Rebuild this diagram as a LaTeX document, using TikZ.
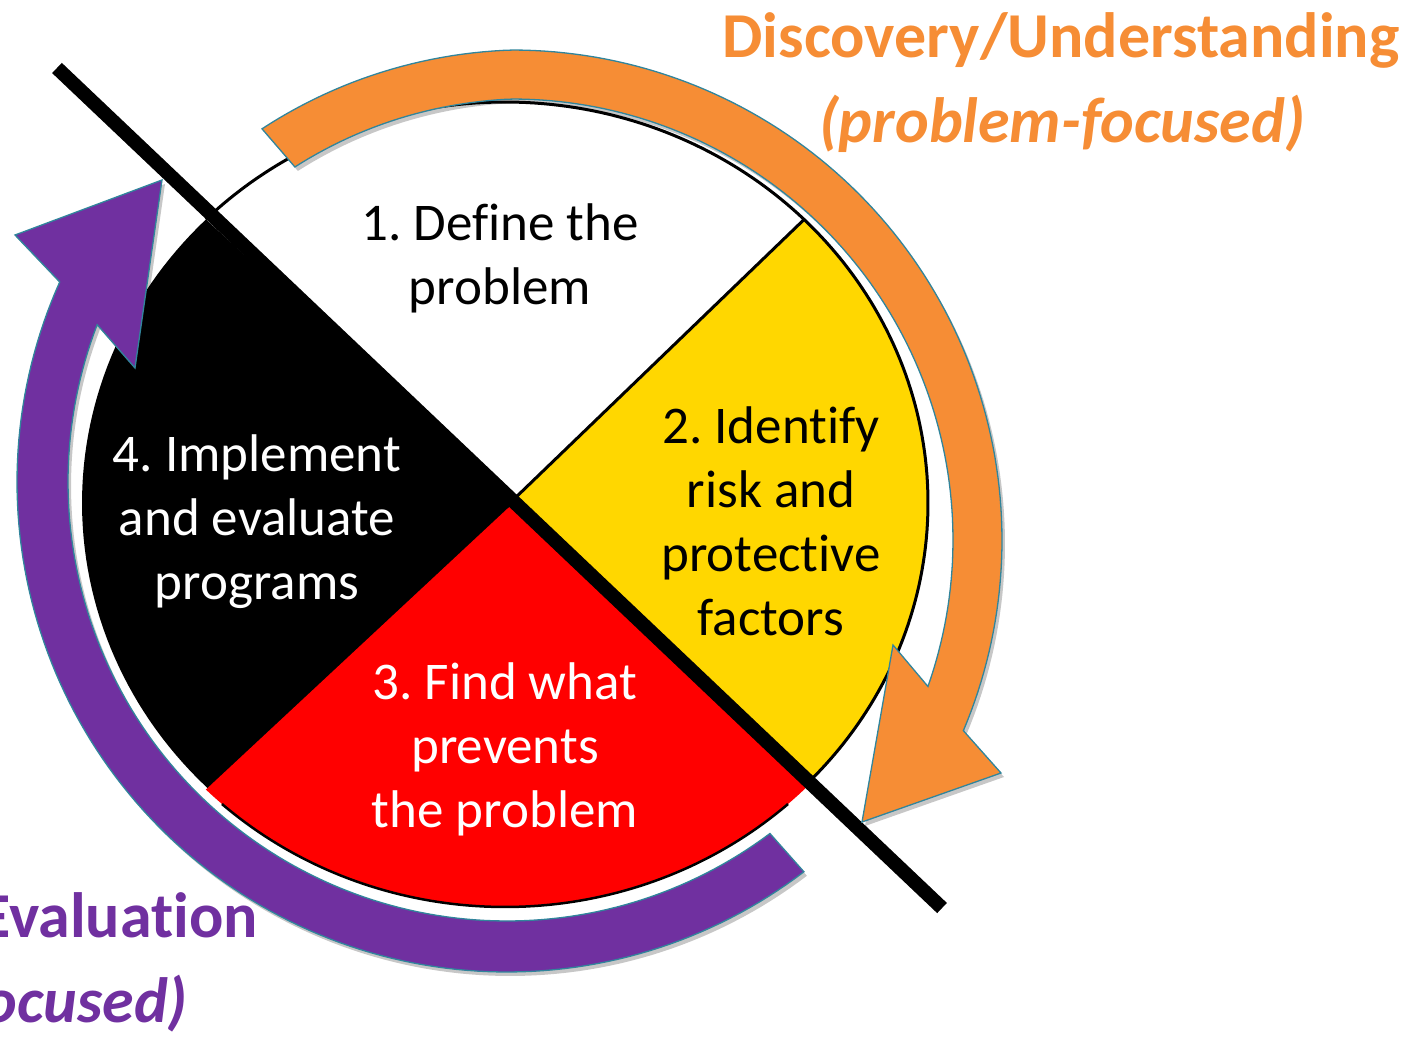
\documentclass[tikz,border=0pt]{standalone}
\usepackage{fontspec}
\setmainfont{Carlito}[Ligatures={TeX,NoCommon}]
\frenchspacing
\definecolor{ppOrange}{HTML}{F68D35}
\definecolor{ppPurple}{HTML}{7030A0}
\definecolor{ppYellow}{HTML}{FFD700}
\definecolor{ppRed}{HTML}{FF0000}
\definecolor{arrowEdge}{HTML}{31859C}
\begin{document}
\begin{tikzpicture}[x=1pt,y=-1pt,
  lbl/.style={inner sep=0pt, align=center, font=\fontsize{53}{64}\selectfont},
  side/.style={inner sep=0pt, font=\fontsize{64}{77}\selectfont\bfseries},
  band/.style={draw=arrowEdge, line width=1.3pt, line join=miter},
  softshadow/.style={fill=black, opacity=0.22},
  rimline/.style={draw=black, line width=3pt, line join=round}]
\useasboundingbox (0,0) rectangle (1418,1041);

% pie sectors (ellipse centre 505,503; rx 423, ry 401)
\coordinate (apex) at (512,501);
\coordinate (redapex) at (507,509);
\coordinate (redlineA) at (810,782.6);
\coordinate (redlineB) at (515,502.6);
\fill[white] (apex) -- plot[domain=45:135,samples=80,variable=\t] ({505+423*cos(\t)},{503-401*sin(\t)}) -- cycle;
\draw[rimline] plot[domain=45:135,samples=80,variable=\t] ({505+423*cos(\t)},{503-401*sin(\t)});
\fill[black] (apex) -- plot[domain=135:310,samples=120,variable=\t] ({505+423*cos(\t)},{503-401*sin(\t)}) -- cycle;
\fill[ppYellow] (apex) -- plot[domain=-45:45,samples=80,variable=\t] ({505+423*cos(\t)},{503-401*sin(\t)}) -- cycle;
\draw[rimline] plot[domain=-45:45,samples=80,variable=\t] ({505+423*cos(\t)},{503-401*sin(\t)}) -- (apex);
\fill[ppRed] (redapex) -- plot[domain=225:315,samples=80,variable=\t] ({505+423*cos(\t)},{506-401*sin(\t)}) -- (redlineA) -- (redlineB) -- cycle;
\draw[black, line width=2.5pt] plot[domain=228:312,samples=80,variable=\t] ({505+423*cos(\t)},{506-401*sin(\t)});

% thick black divider
\coordinate (lineA) at (57,68);
\coordinate (lineB) at (942,908);
\draw[black, opacity=0.2, line width=14pt, shift={(3,3)}] (lineA) -- (lineB);
\draw[line width=14pt] (lineA) -- (lineB);

% arrow shadows
\begin{scope}[shift={(3,4)}]
\fill[softshadow]
  plot[domain=121.3:-22.9,samples=120,variable=\t] ({512+(490-0.28*max(\t-90,0))*cos(\t)},{540-(490-0.28*max(\t-90,0))*sin(\t)})
  -- (1001,773) -- (862,822) -- (893,645)
  -- plot[domain=-19.4:120.2,samples=120,variable=\t] ({512+(441-0.31*max(\t-90,0))*cos(\t)},{540-(441-0.31*max(\t-90,0))*sin(\t)})
  -- cycle;
\fill[softshadow]
  plot[domain=-52.7:-204.1,samples=120,variable=\t] ({507+490*cos(\t)},{482-490*sin(\t)})
  -- (15,235) -- (162,180) -- (135,368)
  -- plot[domain=-201:-53.2,samples=120,variable=\t] ({507+439*cos(\t)},{482-439*sin(\t)})
  -- cycle;
\end{scope}

% orange circular arrow
\filldraw[band, fill=ppOrange]
  plot[domain=121.3:-22.9,samples=120,variable=\t] ({512+(490-0.28*max(\t-90,0))*cos(\t)},{540-(490-0.28*max(\t-90,0))*sin(\t)})
  -- (1001,773) -- (862,822) -- (893,645)
  -- plot[domain=-19.4:120.2,samples=120,variable=\t] ({512+(441-0.31*max(\t-90,0))*cos(\t)},{540-(441-0.31*max(\t-90,0))*sin(\t)})
  -- cycle;

% purple circular arrow
\filldraw[band, fill=ppPurple]
  plot[domain=-52.7:-204.1,samples=120,variable=\t] ({507+490*cos(\t)},{482-490*sin(\t)})
  -- (15,235) -- (162,180) -- (135,368)
  -- plot[domain=-201:-53.2,samples=120,variable=\t] ({507+439*cos(\t)},{482-439*sin(\t)})
  -- cycle;

% sector labels
\node[lbl, text=black] (t1) at (500,258) {1. Define the\\problem};
\node[lbl, text=black] (t2) at (771,521) {2. Identify\\risk and\\protective\\factors};
\node[lbl, text=white] (t3) at (505,749) {3. Find what\\prevents\\the problem};
\node[lbl, text=white] (t4) at (257,522) {4. Implement\\and evaluate\\programs};

% side labels
\node[side, text=ppOrange, anchor=base] (disc) at (1061,58) {Discovery/Understanding};
\node[side, text=ppOrange, anchor=base, font=\fontsize{64}{77}\selectfont\bfseries\itshape] (pf) at (1062,142) {(problem-focused)};
\node[side, text=ppPurple, anchor=base east] (eval) at (258,937) {Evaluation};
\node[side, text=ppPurple, anchor=base east, font=\fontsize{64}{77}\selectfont\bfseries\itshape] (ef) at (188,1022) {ocused)};
\end{tikzpicture}
\end{document}
